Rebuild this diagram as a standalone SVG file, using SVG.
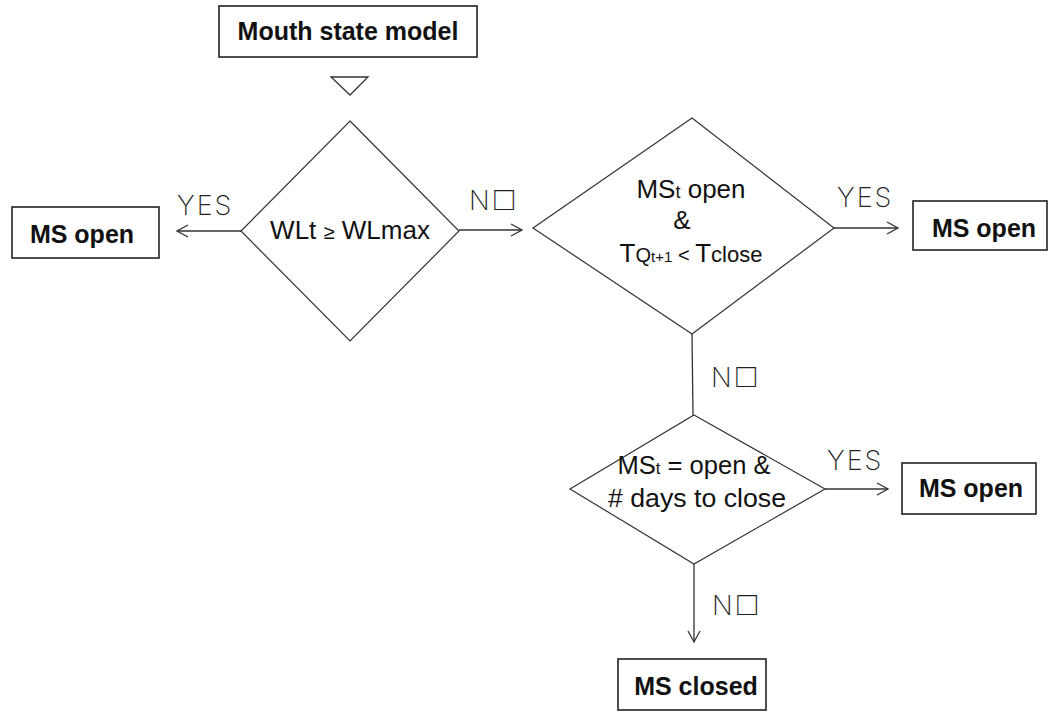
<svg xmlns="http://www.w3.org/2000/svg" width="1050" height="712" viewBox="0 0 1050 712">
<style>
.box{fill:#fff;stroke:#222;stroke-width:1.6}
.dia{fill:#fff;stroke:#333;stroke-width:1.2}
.bt{font-family:"Liberation Sans",Arial,sans-serif;font-size:25px;font-weight:bold;fill:#111;text-anchor:middle}
.dt{font-family:"Liberation Sans",Arial,sans-serif;font-size:26px;fill:#111;text-anchor:middle}
.lbl{font-family:Inter,"DejaVu Sans",sans-serif;font-weight:200;font-size:27px;fill:#222;letter-spacing:2px}
.ln{fill:none;stroke:#333;stroke-width:1.3}
</style>
<defs>
<marker id="ah" markerUnits="userSpaceOnUse" markerWidth="14" markerHeight="14" viewBox="-1 -7 14 14" refX="11" refY="0" orient="auto">
<path d="M0,-6 L11,0 L0,6" fill="none" stroke="#333" stroke-width="1.3"/>
</marker>
</defs>
<g id="connectors">
<polygon class="ln" points="331,77 368,77 350,95"/>
<path class="ln" d="M241,231 L177,231" marker-end="url(#ah)"/>
<path class="ln" d="M459,230 L522,230" marker-end="url(#ah)"/>
<path class="ln" d="M834,228 L898,228" marker-end="url(#ah)"/>
<path class="ln" d="M692,334 L693,415"/>
<path class="ln" d="M825,489 L888,489" marker-end="url(#ah)"/>
<path class="ln" d="M694,564 L694,642" marker-end="url(#ah)"/>
<text class="lbl" x="177" y="215">YES</text>
<text class="lbl" x="469" y="210">N□</text>
<text class="lbl" x="837" y="207">YES</text>
<text class="lbl" x="711" y="387">N□</text>
<text class="lbl" x="827" y="470">YES</text>
<text class="lbl" x="712" y="615">N□</text>
</g>
<g id="start">
<rect class="box" x="219" y="6" width="258" height="51"/>
<text class="bt" x="348" y="40">Mouth state model</text>
</g>
<g id="d1">
<polygon class="dia" points="350,121 459,231 350,341 241,231"/>
<text class="dt" x="350" y="239">WLt <tspan font-size="20">≥</tspan> WLmax</text>
</g>
<g id="open1">
<rect class="box" x="12" y="207" width="147" height="51"/>
<text class="bt" x="82" y="243">MS open</text>
</g>
<g id="d2">
<polygon class="dia" points="692,118 834,228 692,334 533,228"/>
<text class="dt" x="691" y="198">MS<tspan font-size="18">t</tspan> open</text>
<text class="dt" x="682" y="229">&amp;</text>
<text class="dt" x="691" y="262">T<tspan font-size="20">Q</tspan><tspan font-size="15">t+1</tspan><tspan font-size="20"> &lt; </tspan>T<tspan font-size="22">close</tspan></text>
</g>
<g id="open2">
<rect class="box" x="913" y="201" width="134" height="49"/>
<text class="bt" x="984" y="237">MS open</text>
</g>
<g id="d3">
<polygon class="dia" points="694,415 825,489 694,564 570,489"/>
<text class="dt" x="694" y="474" font-size="24" textLength="153" lengthAdjust="spacingAndGlyphs">MS<tspan font-size="17">t</tspan> = open &amp;</text>
<text class="dt" x="697" y="507" font-size="24" textLength="178" lengthAdjust="spacingAndGlyphs"># days to close</text>
</g>
<g id="open3">
<rect class="box" x="902" y="463" width="134" height="51"/>
<text class="bt" x="971" y="497">MS open</text>
</g>
<g id="closed">
<rect class="box" x="618" y="659" width="148" height="51"/>
<text class="bt" x="696" y="695">MS closed</text>
</g>
</svg>
